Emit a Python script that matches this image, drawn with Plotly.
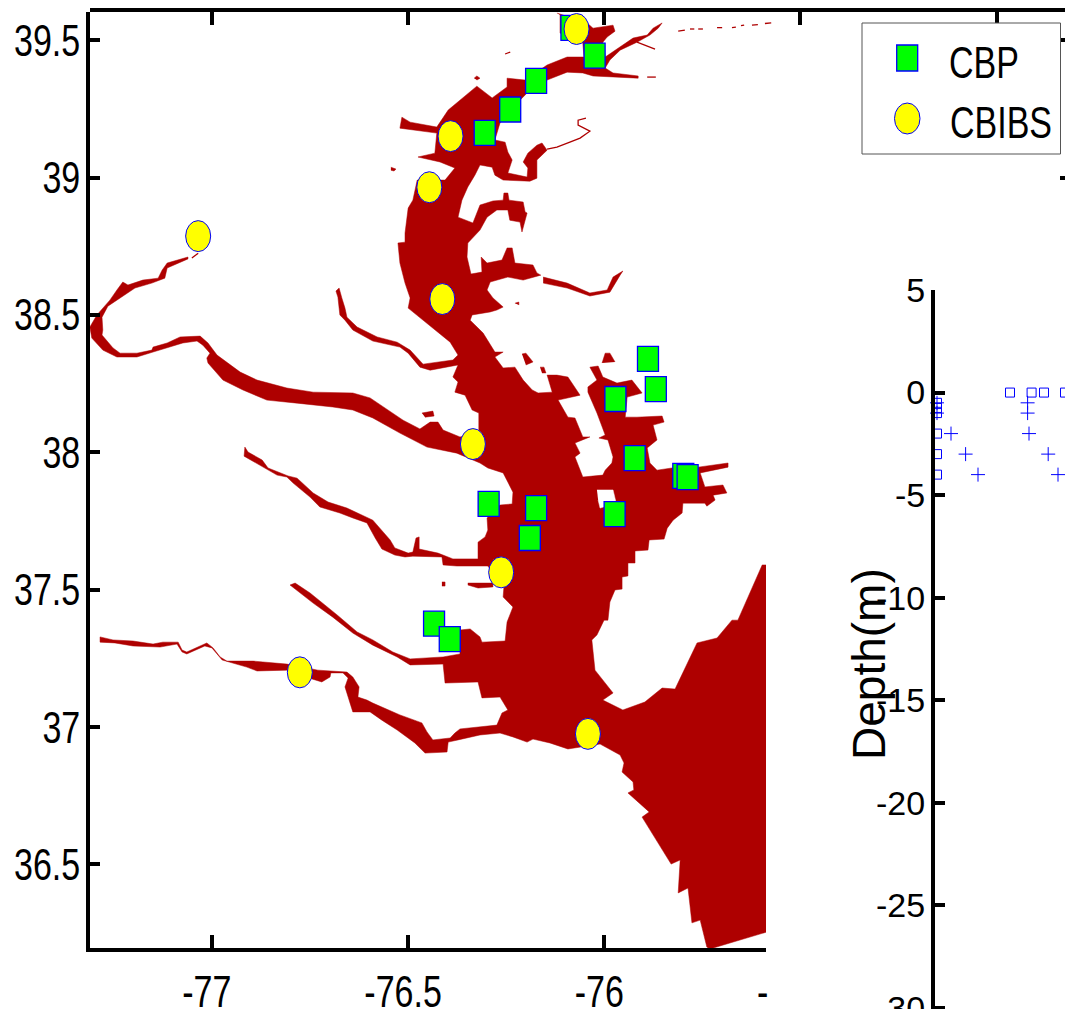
import plotly.graph_objects as go

W, H = 1065, 1009

BAY_LON = [
-76.120,-76.043,-76.028,-75.977,-75.972,-75.992,-76.003,-75.997,-75.926,-75.890,-75.875,-75.852,-75.862,-75.883,-75.916,-75.959,-75.985,-75.997,
-75.977,-75.913,-75.913,-75.977,-76.028,-76.054,-76.094,-76.145,-76.196,-76.214,-76.265,-76.278,-76.252,-76.245,-76.234,-76.245,-76.214,-76.196,
-76.194,-76.206,-76.194,-76.171,-76.158,-76.145,-76.171,-76.171,-76.189,-76.257,-76.278,-76.285,-76.316,-76.329,-76.347,-76.362,-76.372,-76.334,
-76.316,-76.283,-76.257,-76.255,-76.245,-76.242,-76.206,-76.201,-76.196,-76.209,-76.214,-76.240,-76.245,-76.273,-76.298,-76.316,-76.347,-76.349,
-76.339,-76.311,-76.313,-76.298,-76.260,-76.247,-76.234,-76.227,-76.181,-76.171,-76.161,-76.206,-76.245,-76.290,-76.298,-76.283,-76.257,-76.273,
-76.290,-76.336,-76.341,-76.308,-76.278,-76.257,-76.278,-76.257,-76.227,-76.206,-76.183,-76.168,-76.132,-76.145,-76.120,-76.092,-76.061,-76.117,
-76.092,-76.074,-76.054,-76.036,-76.074,-76.061,-76.074,-76.054,-76.003,-75.997,-75.980,-75.977,-75.990,-76.013,-75.997,-76.018,-76.041,-76.041,
-76.018,-76.036,-76.015,-76.003,-75.967,-75.929,-75.903,-75.941,-75.946,-75.916,-75.852,-75.847,-75.875,-75.865,-75.890,-75.883,-75.865,-75.827,
-75.760,-75.684,-75.684,-75.755,-75.743,-75.697,-75.687,-75.722,-75.717,-75.738,-75.743,-75.799,-75.801,-75.824,-75.839,-75.847,-75.885,-75.888,
-75.921,-75.921,-75.939,-75.939,-75.954,-75.954,-75.972,-75.985,-75.990,-76.000,-76.018,-76.031,-76.023,-76.005,-75.977,-76.003,-75.952,-75.896,
-75.852,-75.819,-75.763,-75.712,-75.674,-75.659,-75.597,-75.526,-75.526,-75.730,-75.738,-75.755,-75.776,-75.786,-75.811,-75.806,-75.829,-75.903,
-75.885,-75.939,-75.924,-75.926,-75.954,-75.949,-75.959,-76.010,-76.092,-76.138,-76.181,-76.196,-76.232,-76.265,-76.316,-76.372,-76.397,-76.400,
-76.456,-76.482,-76.527,-76.566,-76.596,-76.640,-76.652,-76.660,-76.652,-76.665,-76.696,-76.698,-76.719,-76.744,-76.808,-76.884,-76.910,-76.973,
-76.999,-77.017,-77.063,-77.075,-77.088,-77.131,-77.200,-77.246,-77.284,-77.284,-77.251,-77.200,-77.149,-77.124,-77.085,-77.075,-77.063,-77.037,
-77.012,-76.996,-76.978,-76.961,-76.894,-76.808,-76.729,-76.655,-76.640,-76.624,-76.627,-76.604,-76.589,-76.520,-76.464,-76.451,-76.436,-76.392,
-76.380,-76.367,-76.273,-76.260,-76.245,-76.265,-76.311,-76.321,-76.405,-76.410,-76.494,-76.527,-76.589,-76.640,-76.691,-76.741,-76.792,-76.800,
-76.787,-76.749,-76.680,-76.629,-76.589,-76.538,-76.494,-76.410,-76.367,-76.367,-76.341,-76.316,-76.311,-76.252,-76.247,-76.232,-76.257,-76.255,
-76.296,-76.375,-76.410,-76.413,-76.487,-76.507,-76.533,-76.566,-76.583,-76.604,-76.640,-76.673,-76.724,-76.749,-76.792,-76.808,-76.833,-76.869,
-76.902,-76.917,-76.915,-76.907,-76.871,-76.856,-76.805,-76.782,-76.741,-76.703,-76.655,-76.589,-76.545,-76.533,-76.499,-76.487,-76.479,-76.471,
-76.471,-76.423,-76.385,-76.321,-76.321,-76.303,-76.296,-76.298,-76.265,-76.234,-76.232,-76.257,-76.296,-76.316,-76.375,-76.451,-76.520,-76.589,
-76.640,-76.691,-76.782,-76.859,-76.920,-76.971,-77.009,-77.012,-77.004,-77.022,-77.037,-77.073,-77.149,-77.190,-77.241,-77.277,-77.305,-77.310,
-77.292,-77.259,-77.241,-77.226,-77.213,-77.175,-77.136,-77.126,-77.113,-77.060,-77.060,-77.113,-77.119,-77.152,-77.195,-77.233,-77.264,-77.279,
-77.277,-77.279,-77.251,-77.233,-77.190,-77.152,-77.149,-77.113,-77.080,-77.029,-77.009,-76.986,-76.927,-76.884,-76.808,-76.741,-76.640,-76.596,
-76.512,-76.469,-76.443,-76.423,-76.410,-76.367,-76.319,-76.319,-76.336,-76.354,-76.380,-76.372,-76.385,-76.372,-76.443,-76.469,-76.499,-76.520,
-76.589,-76.640,-76.660,-76.673,-76.678,-76.683,-76.675,-76.668,-76.660,-76.655,-76.629,-76.578,-76.527,-76.494,-76.461,-76.385,-76.372,-76.392,
-76.436,-76.476,-76.499,-76.494,-76.507,-76.520,-76.525,-76.507,-76.507,-76.499,-76.487,-76.476,-76.405,-76.380,-76.418,-76.474,-76.451,-76.431,
-76.426,-76.520,-76.515,-76.494,-76.426,-76.397,-76.324,-76.311,-76.285,-76.247,-76.247,-76.201,-76.145,-76.094,-76.051,-76.054,-76.112,-76.112,
]
BAY_LAT = [
39.599,39.563,39.544,39.555,39.533,39.512,39.493,39.439,39.508,39.519,39.544,39.563,39.544,39.519,39.493,39.464,39.428,39.399,
39.381,39.370,39.362,39.366,39.370,39.381,39.384,39.355,39.308,39.282,39.199,39.137,39.129,39.093,39.064,39.017,39.009,39.002,
39.035,39.057,39.089,39.118,39.126,39.100,39.064,38.998,38.987,38.991,39.009,39.038,39.046,39.009,38.966,38.918,38.856,38.835,
38.900,38.915,38.918,38.944,38.944,38.918,38.911,38.875,38.871,38.802,38.838,38.845,38.882,38.882,38.856,38.809,38.762,38.711,
38.649,38.656,38.711,38.689,38.700,38.744,38.744,38.689,38.682,38.653,38.645,38.627,38.638,38.620,38.591,38.562,38.529,38.518,
38.511,38.500,38.481,38.434,38.365,38.365,38.347,38.307,38.310,38.263,38.227,38.216,38.219,38.281,38.281,38.274,38.208,38.190,
38.128,38.125,38.056,38.056,38.034,37.997,37.983,37.910,37.917,37.935,37.961,37.983,38.045,38.052,38.063,38.143,38.219,38.238,
38.263,38.310,38.314,38.274,38.252,38.263,38.216,38.201,38.128,38.128,38.132,38.110,38.099,38.045,38.016,37.961,37.935,37.943,
37.946,37.961,37.946,37.925,37.874,37.881,37.852,37.844,37.826,37.804,37.815,37.815,37.779,37.753,37.724,37.684,37.681,37.644,
37.641,37.597,37.597,37.550,37.546,37.502,37.499,37.455,37.389,37.389,37.335,37.317,37.207,37.175,37.124,37.098,37.062,37.091,
37.142,37.138,37.306,37.324,37.389,37.389,37.590,37.590,36.279,36.192,36.199,36.297,36.287,36.414,36.396,36.516,36.501,36.672,
36.691,36.760,36.771,36.800,36.836,36.869,36.898,36.938,36.920,36.942,36.956,36.945,36.964,36.978,36.971,36.953,36.945,36.909,
36.905,36.942,36.989,37.025,37.055,37.055,37.109,37.146,37.178,37.197,37.197,37.182,37.164,37.175,37.207,37.204,37.218,37.244,
37.288,37.295,37.266,37.273,37.302,37.291,37.295,37.306,37.309,37.328,37.317,37.313,37.302,37.309,37.309,37.280,37.273,37.291,
37.306,37.288,37.255,37.240,37.240,37.229,37.207,37.200,37.182,37.146,37.109,37.098,37.087,37.044,37.015,36.982,36.953,36.960,
36.978,36.993,37.007,37.051,37.062,37.109,37.106,37.164,37.160,37.229,37.226,37.255,37.298,37.342,37.400,37.451,37.506,37.517,
37.524,37.488,37.408,37.346,37.317,37.273,37.248,37.255,37.266,37.353,37.357,37.328,37.309,37.313,37.382,37.437,37.473,37.510,
37.586,37.586,37.590,37.619,37.622,37.619,37.626,37.648,37.688,37.743,37.761,37.779,37.801,37.837,37.888,37.910,37.917,37.946,
37.972,37.986,38.019,38.001,37.972,37.943,37.914,37.906,37.852,37.819,37.797,37.753,37.681,37.652,37.633,37.637,37.688,37.692,
37.648,37.633,37.612,37.612,37.673,37.692,37.717,37.761,37.808,37.812,37.855,37.925,37.943,37.961,37.997,38.019,38.070,38.125,
38.154,38.165,38.179,38.190,38.227,38.263,38.325,38.343,38.361,38.390,38.405,38.398,38.365,38.347,38.347,38.372,38.416,38.456,
38.500,38.554,38.591,38.620,38.609,38.627,38.634,38.663,38.689,38.711,38.704,38.671,38.634,38.616,38.598,38.562,38.532,38.492,
38.445,38.427,38.380,38.361,38.361,38.372,38.383,38.398,38.420,38.423,38.398,38.354,38.292,38.263,38.234,38.219,38.216,38.198,
38.117,38.085,38.110,38.110,38.081,38.056,38.070,38.143,38.154,38.208,38.219,38.256,38.274,38.318,38.299,38.310,38.361,38.383,
38.405,38.445,38.481,38.500,38.565,38.587,38.598,38.562,38.525,38.492,38.456,38.420,38.401,38.372,38.321,38.336,38.354,38.401,
38.452,38.500,38.525,38.562,38.616,38.689,38.762,38.765,38.798,38.889,38.918,38.991,38.991,39.035,39.057,39.075,39.082,39.089,
39.162,39.180,39.220,39.202,39.184,39.246,39.333,39.319,39.290,39.330,39.362,39.355,39.410,39.439,39.439,39.490,39.526,39.592,
]
assert len(BAY_LON) == len(BAY_LAT), (len(BAY_LON), len(BAY_LAT))

ISLET_LON = [
-76.155,-76.094,-76.036,-75.992,-75.977,-75.952,-75.959,-75.972,-75.985,-76.036,-76.094,-76.155,None,
-76.347,-76.283,-76.283,-76.321,-76.347,None,
-76.331,-76.324,-76.316,-76.324,None,
-76.209,-76.199,-76.181,-76.199,None,
-76.163,-76.153,-76.148,-76.158,None,
-76.005,-75.997,-75.985,-75.972,None,
-76.464,-76.436,-76.433,-76.456,None,
-76.413,-76.405,-76.405,-76.413,None,
-76.543,-76.530,-76.535,-76.543,None,
-76.227,-76.217,-76.217,
]
ISLET_LAT = [
38.638,38.616,38.580,38.591,38.638,38.660,38.645,38.616,38.583,38.569,38.598,38.616,None,
37.524,37.524,37.510,37.506,37.517,None,
39.362,39.370,39.362,39.355,None,
38.358,38.361,38.329,38.318,None,
38.310,38.310,38.289,38.289,None,
38.325,38.361,38.361,38.329,None,
38.143,38.150,38.132,38.128,None,
37.528,37.528,37.513,37.513,None,
39.038,39.031,39.024,39.027,None,
38.543,38.547,38.536,
]
HOLE_LON = [-76.018,-75.977,-75.969,-76.010,-76.015]
HOLE_LAT = [37.863,37.863,37.815,37.797,37.826]
CREEK_LON = [-76.145,-76.120,-76.087,-76.061,-76.036,-76.066,-76.066,-76.046,None,
             -75.916,-75.870,None,-75.811,-75.794,None,-75.781,-75.770,None,
             -75.890,-75.868,None,-77.050,-77.034,None,-76.252,-76.239]
CREEK_LAT = [39.104,39.111,39.129,39.144,39.169,39.191,39.209,39.217,None,
             39.493,39.468,None,39.533,39.537,None,39.541,39.541,None,
             39.366,39.366,None,38.707,38.725,None,39.450,39.457]
HEAD_LON = [-75.760,-75.748,None,-75.712,-75.699,None,-75.674,-75.664,None,-75.651,-75.643,None,-75.623,-75.608,None,-75.590,-75.574]
HEAD_LAT = [39.541,39.541,None,39.546,39.546,None,39.546,39.548,None,39.553,39.555,None,39.555,39.557,None,39.561,39.563]

CBP_LON = [-76.083,-76.024,-76.173,-76.239,-76.304,-75.888,-75.868,-75.971,-75.922,-75.798,-75.787,-75.973,-76.294,-76.173,-76.189,-76.433,-76.393]
CBP_LAT = [39.545,39.444,39.352,39.248,39.163,38.340,38.230,38.194,37.979,37.914,37.910,37.775,37.812,37.797,37.688,37.376,37.320]
CBIBS_LON = [-76.070,-76.391,-76.445,-76.412,-77.034,-76.334,-76.262,-76.775,-76.041]
CBIBS_LAT = [39.541,39.151,38.965,38.558,38.787,38.030,37.563,37.199,36.975]

SQ_VAL = [0,0,0,0,0,0.2,0.2,0.2,3.85,4.93,5.55,6.6,0.2,0.2,0.2]
SQ_DEPTH = [0,-0.25,-0.5,-0.75,-1,-0.5,-0.75,-1,0,0,0,0,-2,-3,-4]
PL_VAL = [0.2,0.2,0.9,1.63,2.25,4.73,4.73,4.8,5.76,6.25]
PL_DEPTH = [-0.5,-1,-2,-3,-4,-0.5,-1,-2,-3,-4]

LON_TICKS = [-77,-76.5,-76]
LON_LABELS = ["-77\u00a0","-76.5\u00a0","-76\u00a0"]
LAT_TICKS = [36.5,37,37.5,38,38.5,39,39.5]
LAT_LABELS = ["36.5","37","37.5","38","38.5","39","39.5"]
DEPTH_TICKS = [5,0,-5,-10,-15,-20,-25,-30]
DEPTH_LABELS = ["5","0","-5","-10","-15","-20","-25","-30"]
TOP_TICKS = [-77,-76.5,-76,-75.5,-75]

RED = "#ae0000"
BLUE = "#0000ff"
GREEN = "#00ff00"
YEL = "#ffff00"
FONT = "Liberation Sans"

def px(x): return x / W
def py(y): return 1 - y / H

fig = go.Figure()
fig.add_trace(go.Scatter(x=BAY_LON, y=BAY_LAT, mode="lines", fill="toself", fillcolor=RED, line=dict(color=RED, width=0.5), name="Bay", hoverinfo="skip"))
fig.add_trace(go.Scatter(x=ISLET_LON, y=ISLET_LAT, mode="lines", fill="toself", fillcolor=RED, line=dict(color=RED, width=0.5), name="Tributaries", hoverinfo="skip"))
fig.add_trace(go.Scatter(x=CREEK_LON, y=CREEK_LAT, mode="lines", line=dict(color=RED, width=1.3), name="Creeks", hoverinfo="skip"))
fig.add_trace(go.Scatter(x=HOLE_LON, y=HOLE_LAT, mode="lines", fill="toself", fillcolor="white", line=dict(color="white", width=0.5), name="Island", hoverinfo="skip"))
fig.add_trace(go.Scatter(x=CBP_LON, y=CBP_LAT, mode="markers", name="CBP",
                         marker=dict(symbol="square", size=20, color=GREEN, line=dict(color=BLUE, width=1))))
fig.add_trace(go.Scatter(x=CBIBS_LON, y=CBIBS_LAT, mode="markers", name="CBIBS",
                         marker=dict(symbol="circle", size=24, color=YEL, line=dict(color=BLUE, width=1))))
fig.add_trace(go.Scatter(x=SQ_VAL, y=SQ_DEPTH, xaxis="x2", yaxis="y2", mode="markers", cliponaxis=False, name="obs",
                         marker=dict(symbol="square-open", size=9, color=BLUE, line=dict(color=BLUE, width=1))))
fig.add_trace(go.Scatter(x=PL_VAL, y=PL_DEPTH, xaxis="x2", yaxis="y2", mode="markers", cliponaxis=False, name="model",
                         marker=dict(symbol="cross-thin-open", size=10, color=BLUE, line=dict(color=BLUE, width=1))))
fig.add_trace(go.Scatter(x=HEAD_LON, y=HEAD_LAT, xaxis="x3", yaxis="y3", mode="lines", line=dict(color=RED, width=1.3), name="Headwater", hoverinfo="skip"))

shapes = []
for lon, lat in zip(CBP_LON, CBP_LAT):
    shapes.append(dict(type="rect", xref="x", yref="y", xsizemode="pixel", ysizemode="pixel", xanchor=lon, yanchor=lat,
                       x0=-10.5, x1=10.5, y0=-12.5, y1=12.5, fillcolor=GREEN, line=dict(color=BLUE, width=1.3), layer="above"))
for lon, lat in zip(CBIBS_LON, CBIBS_LAT):
    shapes.append(dict(type="circle", xref="x", yref="y", xsizemode="pixel", ysizemode="pixel", xanchor=lon, yanchor=lat,
                       x0=-12.5, x1=12.5, y0=-15.5, y1=15.5, fillcolor=YEL, line=dict(color=BLUE, width=1), layer="above"))
shapes.append(dict(type="rect", xref="paper", yref="paper", x0=px(862), x1=px(1060.5), y0=py(154), y1=py(23),
                   fillcolor="white", line=dict(color="#555555", width=1), layer="above"))
shapes.append(dict(type="rect", xref="paper", yref="paper", x0=px(896.7), x1=px(917.7), y0=py(71), y1=py(45),
                   fillcolor=GREEN, line=dict(color=BLUE, width=1.3), layer="above"))
shapes.append(dict(type="circle", xref="paper", yref="paper", x0=px(894.5), x1=px(920), y0=py(134), y1=py(103),
                   fillcolor=YEL, line=dict(color=BLUE, width=1), layer="above"))

tickfont = dict(family=FONT, size=34, color="black")
annotations = [
    dict(text="CBP", xref="paper", yref="paper", x=px(947), y=py(62), xanchor="left", yanchor="middle", showarrow=False,
         font=dict(family=FONT, size=34, color="black")),
    dict(text="CBIBS", xref="paper", yref="paper", x=px(948), y=py(122), xanchor="left", yanchor="middle", showarrow=False,
         font=dict(family=FONT, size=34, color="black")),
    dict(text="Depth(m)", xref="paper", yref="paper", x=px(869), y=py(664), xanchor="center", yanchor="middle", textangle=-90, showarrow=False,
         font=dict(family=FONT, size=46, color="black")),
    dict(text="-", xref="paper", yref="paper", x=px(762), y=py(991), xanchor="center", yanchor="middle", showarrow=False, font=tickfont),
]

common = dict(showgrid=False, zeroline=False, showline=True, linecolor="black", linewidth=4, ticks="inside", automargin=False,
              tickcolor="black", tickwidth=4, tickfont=tickfont, tickmode="array")

fig.update_layout(
    template="none",
    width=W, height=H, autosize=False, margin=dict(l=0, r=0, t=0, b=0, pad=0), paper_bgcolor="white", plot_bgcolor="rgba(0,0,0,0)",
    showlegend=False, hovermode="closest", shapes=shapes, annotations=annotations,
    xaxis=dict(domain=[px(90), px(766)], range=[-77.3096, -75.5873], anchor="y", tickvals=LON_TICKS, ticktext=LON_LABELS, ticklen=13, ticklabelstandoff=11, **common),
    yaxis=dict(domain=[py(948), py(12)], range=[36.1955, 39.6029], anchor="x", tickvals=LAT_TICKS, ticktext=LAT_LABELS, ticklen=10, ticklabelstandoff=-1, **common),
    xaxis2=dict(domain=[px(935), 1], range=[0.1, 6.6], anchor="y2", visible=False, automargin=False),
    yaxis2=dict(domain=[0, py(290)], range=[-30.05, 5], anchor="x2", tickvals=DEPTH_TICKS, ticktext=DEPTH_LABELS, ticklen=10, ticklabelstandoff=-1,
                ticklabeloverflow="allow", **common),
    xaxis3=dict(domain=[px(90), 1], range=[-77.3096, -74.8255], anchor="y3", side="top", showgrid=False, zeroline=False, showline=True, linecolor="black", automargin=False,
                linewidth=4, ticks="inside", tickcolor="black", tickwidth=4, ticklen=13, tickmode="array", tickvals=TOP_TICKS, showticklabels=False),
    yaxis3=dict(domain=[py(948), py(12)], range=[36.1955, 39.6029], anchor="x3", side="right", showgrid=False, zeroline=False, showline=False, automargin=False,
                ticks="inside", tickcolor="black", tickwidth=4, ticklen=5, tickmode="array", tickvals=[39, 39.5], showticklabels=False),
)

# The map panel's text is taller than it is wide in the reference, so it gets a vertical stretch.
STRETCH_JS = """
document.body.style.margin='0';document.body.style.overflow='hidden';
(function(){
  var gd=document.getElementById('{plot_id}');
  function stretch(t){
    if(t.dataset.stretched)return;
    var b=t.getBBox(),c=b.y+b.height/2,old=t.getAttribute('transform')||'';
    t.setAttribute('transform',old+' translate(0,'+c+') scale(1,1.3) translate(0,'+(-c)+')');
    t.dataset.stretched='1';
  }
  function run(){
    gd.querySelectorAll('.xtick text,.ytick text').forEach(stretch);
    gd.querySelectorAll('.annotation-text').forEach(function(t){
      if(t.textContent!=='Depth(m)')stretch(t);
    });
  }
  run();setTimeout(run,50);setTimeout(run,300);
})();
"""
fig.write_html("out.html", config={"displayModeBar": False}, post_script=STRETCH_JS)
